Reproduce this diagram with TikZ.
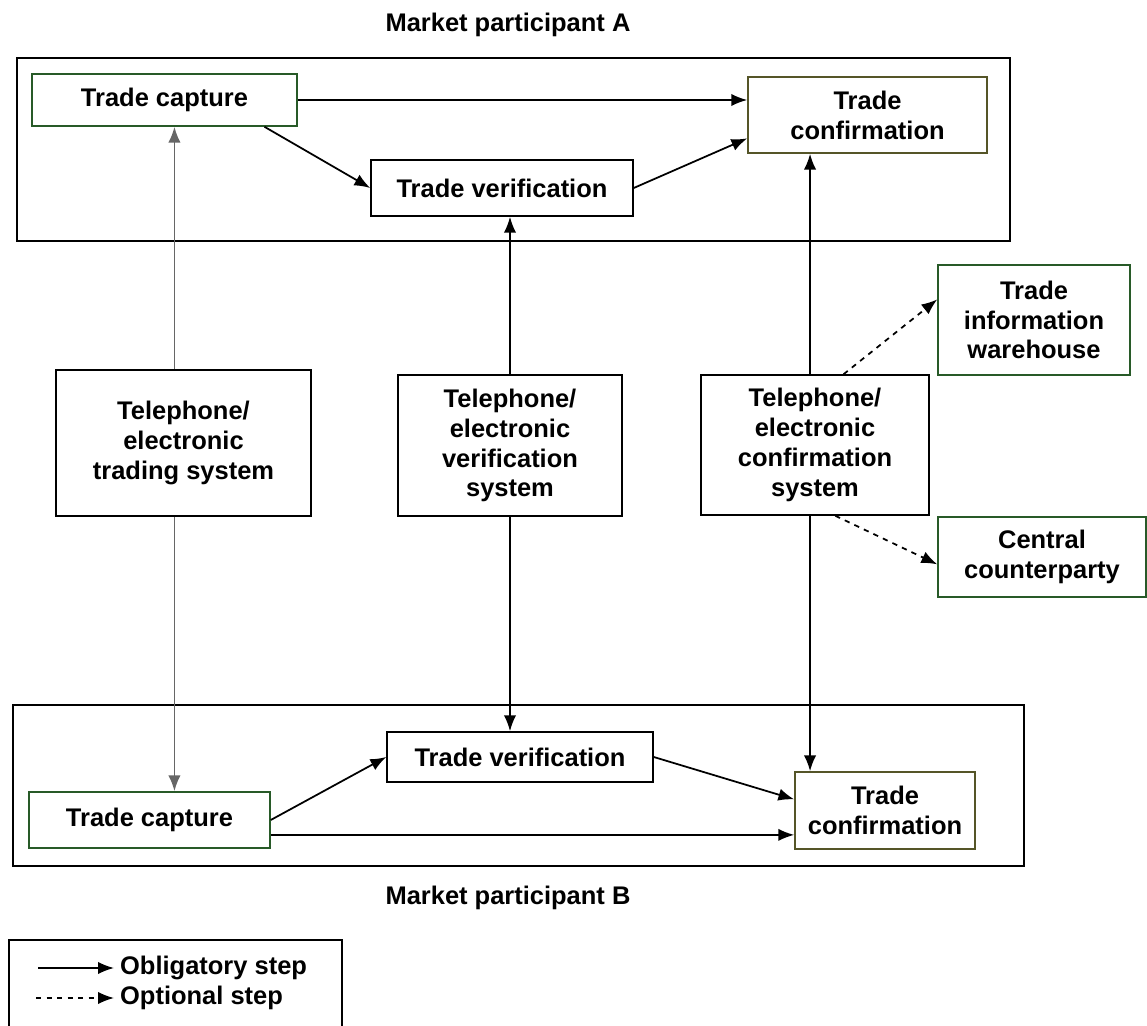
\documentclass[tikz,border=0pt]{standalone}
\usepackage{fontspec}
\setmainfont{Liberation Sans}
\usetikzlibrary{arrows.meta}
\definecolor{boxgreen}{RGB}{40,90,40}
\definecolor{boxolive}{RGB}{85,85,40}

\begin{document}
\begin{tikzpicture}[->,>={Latex[length=9pt,width=7pt]},x=0.02cm,y=-0.02cm,line width=1pt,
        font=\bfseries\fontsize{14.5}{17}\selectfont]
        \tikzstyle{stage}=[draw,align=center,inner sep=2pt,line width=0.9pt]
        \tikzstyle{frame}=[draw,line width=1.1pt]
  \useasboundingbox (0,0) rectangle (1147,1026);

  % participant A
  \node (titleA) at (508,25) {Market participant A};
  \node[frame,minimum width=19.86cm,minimum height=3.66cm] (frameA) at (513.5,149.5) {};
  \node[stage,draw=boxgreen,minimum width=5.3cm,minimum height=1.04cm] (capA) at (164.5,100) {Trade capture};
  \node[stage,draw=boxolive,minimum width=4.78cm,minimum height=1.52cm] (confA) at (867.5,115) {Trade\\confirmation};
  \node[stage,minimum width=5.24cm,minimum height=1.12cm] (verA) at (502,188) {Trade verification};

  % systems in the middle
  \node[stage,minimum width=5.1cm,minimum height=2.92cm] (trading) at (183.5,443) {Telephone/\\electronic\\trading system};
  \node[stage,minimum width=4.48cm,minimum height=2.82cm] (versys) at (510,445.5) {Telephone/\\electronic\\verification\\system};
  \node[stage,minimum width=4.56cm,minimum height=2.8cm] (confsys) at (815,445) {Telephone/\\electronic\\confirmation\\system};
  \node[stage,draw=boxgreen,minimum width=3.84cm,minimum height=2.2cm] (tiw) at (1034,320) {Trade\\information\\warehouse};
  \node[stage,draw=boxgreen,minimum width=4.16cm,minimum height=1.6cm] (ccp) at (1042,557) {Central\\counterparty};

  % participant B
  \node[frame,minimum width=20.22cm,minimum height=3.22cm] (frameB) at (518.5,785.5) {};
  \node[stage,minimum width=5.32cm,minimum height=1cm] (verB) at (520,757) {Trade verification};
  \node[stage,draw=boxgreen,minimum width=4.82cm,minimum height=1.12cm] (capB) at (149.5,820) {Trade capture};
  \node[stage,draw=boxolive,minimum width=3.6cm,minimum height=1.54cm] (confB) at (885,810.5) {Trade\\confirmation};
  \node (titleB) at (508,898) {Market participant B};

  % legend
  \node[frame,minimum width=6.66cm,minimum height=2.2cm,anchor=north west] (legend) at (8,939) {};
  \coordinate (obl) at (38,968);
  \node[anchor=west,inner sep=3pt] (obltext) at (114,968) {Obligatory step};
  \coordinate (opt) at (36,998);
  \node[anchor=west,inner sep=3pt] (opttext) at (114,998) {Optional step};

  \draw (capA.east) -- (capA.east -| confA.west);
  \draw (capA.-15) -- (verA.west);
  \draw (verA.east) -- (confA.191);
  \draw[black!60] (trading.97) -- (trading.97 |- capA.south);
  \draw[black!60] (trading.-97) -- (trading.-97 |- capB.north);
  \draw (versys.north) -- (versys.north |- verA.south);
  \draw (versys.south) -- (versys.south |- verB.north);
  \draw (confsys.94) -- (confsys.94 |- confA.south);
  \draw (confsys.-94) -- (confsys.-94 |- confB.north);
  \draw[dashed] (confsys.68) -- (tiw.168);
  \draw[dashed] (confsys.-74) -- (ccp.184);
  \draw (capB.east) -- (verB.west);
  \draw (verB.east) -- (confB.173);
  \draw (capB.-7) -- (capB.-7 -| confB.west);
  \draw (obl) -- (obltext.west);
  \draw[dashed] (opt) -- (opttext.west);

\end{tikzpicture}
\end{document}
